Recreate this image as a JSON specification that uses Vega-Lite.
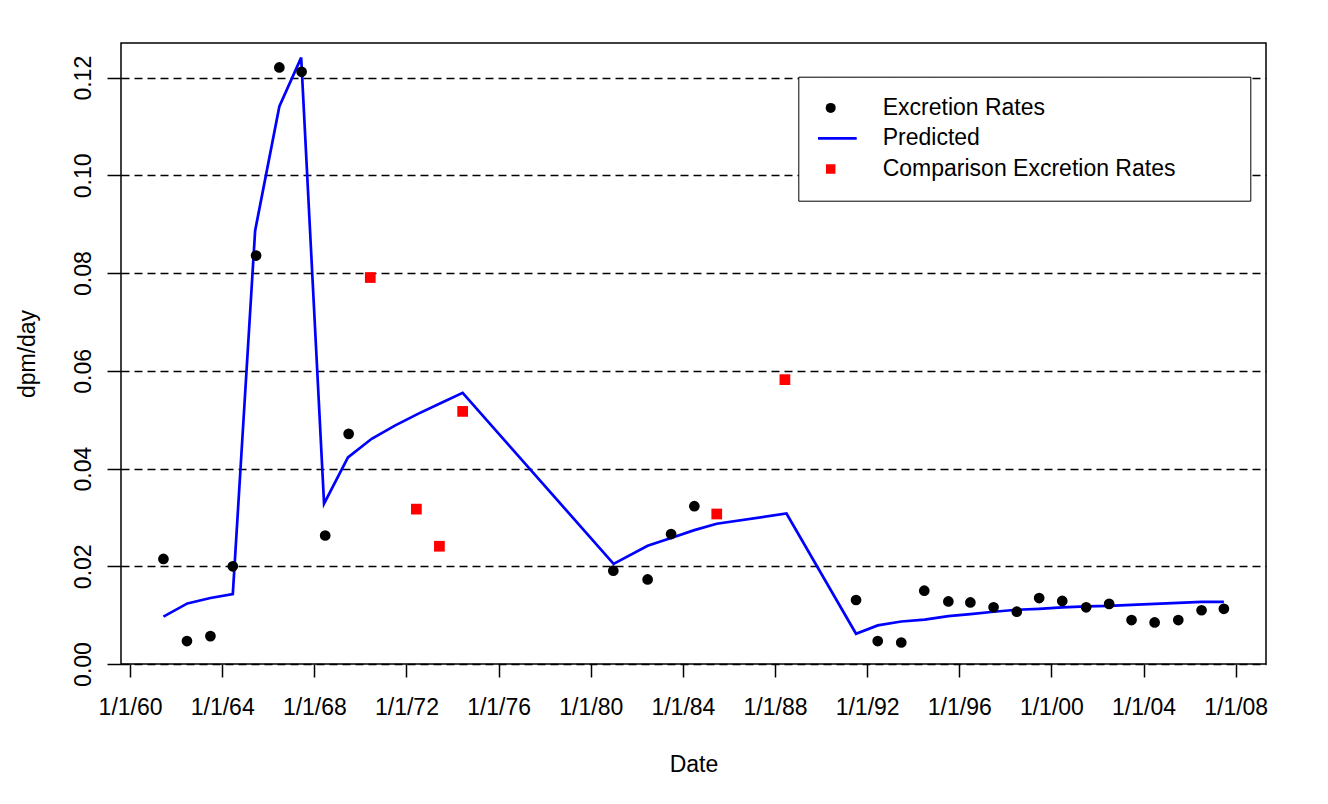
{
  "$schema": "https://vega.github.io/schema/vega-lite/v6.json",
  "width": 1145,
  "height": 621,
  "autosize": "none",
  "padding": {"left": 121, "top": 43, "right": 62, "bottom": 140},
  "background": "white",
  "config": {
    "font": "Liberation Sans",
    "view": {"stroke": "black", "strokeWidth": 1.5}
  },
  "data": {
    "values": [
      {"date": "1961/06/13", "value": 0.0215, "series": "Excretion Rates"},
      {"date": "1962/06/21", "value": 0.0047, "series": "Excretion Rates"},
      {"date": "1963/06/28", "value": 0.0057, "series": "Excretion Rates"},
      {"date": "1964/06/17", "value": 0.0200, "series": "Excretion Rates"},
      {"date": "1965/06/21", "value": 0.0836, "series": "Excretion Rates"},
      {"date": "1966/06/25", "value": 0.1221, "series": "Excretion Rates"},
      {"date": "1967/06/13", "value": 0.1212, "series": "Excretion Rates"},
      {"date": "1968/06/21", "value": 0.0263, "series": "Excretion Rates"},
      {"date": "1969/06/28", "value": 0.0471, "series": "Excretion Rates"},
      {"date": "1980/12/24", "value": 0.0191, "series": "Excretion Rates"},
      {"date": "1982/06/21", "value": 0.0173, "series": "Excretion Rates"},
      {"date": "1983/06/28", "value": 0.0266, "series": "Excretion Rates"},
      {"date": "1984/07/01", "value": 0.0323, "series": "Excretion Rates"},
      {"date": "1991/07/09", "value": 0.0131, "series": "Excretion Rates"},
      {"date": "1992/06/17", "value": 0.0047, "series": "Excretion Rates"},
      {"date": "1993/06/25", "value": 0.0044, "series": "Excretion Rates"},
      {"date": "1994/06/25", "value": 0.0150, "series": "Excretion Rates"},
      {"date": "1995/07/12", "value": 0.0128, "series": "Excretion Rates"},
      {"date": "1996/06/25", "value": 0.0126, "series": "Excretion Rates"},
      {"date": "1997/06/28", "value": 0.0116, "series": "Excretion Rates"},
      {"date": "1998/07/01", "value": 0.0107, "series": "Excretion Rates"},
      {"date": "1999/06/21", "value": 0.0135, "series": "Excretion Rates"},
      {"date": "2000/06/21", "value": 0.0129, "series": "Excretion Rates"},
      {"date": "2001/07/05", "value": 0.0116, "series": "Excretion Rates"},
      {"date": "2002/07/05", "value": 0.0123, "series": "Excretion Rates"},
      {"date": "2003/06/25", "value": 0.0090, "series": "Excretion Rates"},
      {"date": "2004/06/25", "value": 0.0085, "series": "Excretion Rates"},
      {"date": "2005/07/05", "value": 0.0090, "series": "Excretion Rates"},
      {"date": "2006/07/09", "value": 0.0110, "series": "Excretion Rates"},
      {"date": "2007/06/28", "value": 0.0113, "series": "Excretion Rates"},
      {"date": "1970/06/06", "value": 0.0791, "series": "Comparison Excretion Rates"},
      {"date": "1972/06/06", "value": 0.0317, "series": "Comparison Excretion Rates"},
      {"date": "1973/06/06", "value": 0.0241, "series": "Comparison Excretion Rates"},
      {"date": "1974/06/10", "value": 0.0517, "series": "Comparison Excretion Rates"},
      {"date": "1985/06/21", "value": 0.0307, "series": "Comparison Excretion Rates"},
      {"date": "1988/06/06", "value": 0.0582, "series": "Comparison Excretion Rates"},
      {"date": "1961/06/13", "value": 0.0097, "series": "Predicted"},
      {"date": "1962/06/28", "value": 0.0124, "series": "Predicted"},
      {"date": "1963/06/28", "value": 0.0135, "series": "Predicted"},
      {"date": "1964/06/17", "value": 0.0143, "series": "Predicted"},
      {"date": "1965/06/06", "value": 0.0887, "series": "Predicted"},
      {"date": "1966/06/25", "value": 0.1141, "series": "Predicted"},
      {"date": "1967/06/06", "value": 0.1241, "series": "Predicted"},
      {"date": "1968/06/03", "value": 0.0328, "series": "Predicted"},
      {"date": "1969/06/17", "value": 0.0423, "series": "Predicted"},
      {"date": "1970/06/28", "value": 0.0461, "series": "Predicted"},
      {"date": "1971/07/01", "value": 0.0488, "series": "Predicted"},
      {"date": "1972/07/01", "value": 0.0512, "series": "Predicted"},
      {"date": "1973/07/01", "value": 0.0534, "series": "Predicted"},
      {"date": "1974/06/10", "value": 0.0555, "series": "Predicted"},
      {"date": "1980/12/28", "value": 0.0205, "series": "Predicted"},
      {"date": "1982/06/21", "value": 0.0242, "series": "Predicted"},
      {"date": "1983/06/28", "value": 0.0258, "series": "Predicted"},
      {"date": "1984/07/01", "value": 0.0274, "series": "Predicted"},
      {"date": "1985/06/21", "value": 0.0287, "series": "Predicted"},
      {"date": "1988/07/01", "value": 0.0308, "series": "Predicted"},
      {"date": "1991/07/09", "value": 0.0062, "series": "Predicted"},
      {"date": "1992/06/17", "value": 0.0079, "series": "Predicted"},
      {"date": "1993/06/25", "value": 0.0087, "series": "Predicted"},
      {"date": "1994/07/01", "value": 0.0091, "series": "Predicted"},
      {"date": "1995/07/12", "value": 0.0098, "series": "Predicted"},
      {"date": "1996/06/25", "value": 0.0102, "series": "Predicted"},
      {"date": "1997/06/28", "value": 0.0107, "series": "Predicted"},
      {"date": "1998/07/01", "value": 0.0111, "series": "Predicted"},
      {"date": "1999/06/21", "value": 0.0113, "series": "Predicted"},
      {"date": "2000/06/21", "value": 0.0116, "series": "Predicted"},
      {"date": "2001/07/05", "value": 0.0118, "series": "Predicted"},
      {"date": "2002/07/05", "value": 0.0119, "series": "Predicted"},
      {"date": "2003/06/25", "value": 0.0121, "series": "Predicted"},
      {"date": "2004/06/25", "value": 0.0123, "series": "Predicted"},
      {"date": "2005/07/05", "value": 0.0125, "series": "Predicted"},
      {"date": "2006/07/09", "value": 0.0127, "series": "Predicted"},
      {"date": "2007/06/28", "value": 0.0127, "series": "Predicted"}
    ]
  },
  "encoding": {
    "x": {
      "field": "date",
      "type": "temporal",
      "scale": {"domain": [{"year": 1959, "month": 8, "date": 10}, {"year": 2009, "month": 4, "date": 26}]},
      "axis": {
        "title": "Date",
        "values": [
          {"year": 1960, "month": 1, "date": 1}, {"year": 1964, "month": 1, "date": 1},
          {"year": 1968, "month": 1, "date": 1}, {"year": 1972, "month": 1, "date": 1},
          {"year": 1976, "month": 1, "date": 1}, {"year": 1980, "month": 1, "date": 1},
          {"year": 1984, "month": 1, "date": 1}, {"year": 1988, "month": 1, "date": 1},
          {"year": 1992, "month": 1, "date": 1}, {"year": 1996, "month": 1, "date": 1},
          {"year": 2000, "month": 1, "date": 1}, {"year": 2004, "month": 1, "date": 1},
          {"year": 2008, "month": 1, "date": 1}
        ],
        "format": "%-m/%-d/%y",
        "labelFontSize": 23,
        "labelColor": "black",
        "labelPadding": 19,
        "labelFlush": false,
        "labelOverlap": false,
        "tickSize": 13,
        "tickWidth": 1.5,
        "tickColor": "black",
        "domain": false,
        "grid": false,
        "titleFontSize": 23,
        "titleFontWeight": "normal",
        "titleColor": "black",
        "titlePadding": 34
      }
    },
    "y": {
      "field": "value",
      "type": "quantitative",
      "scale": {"domain": [0, 0.1271], "nice": false, "zero": false},
      "axis": {
        "title": "dpm/day",
        "values": [0, 0.02, 0.04, 0.06, 0.08, 0.1, 0.12],
        "format": ".2f",
        "labelAngle": 270,
        "labelAlign": "center",
        "labelBaseline": "alphabetic",
        "labelPadding": 17,
        "labelFontSize": 23,
        "labelColor": "black",
        "labelOverlap": false,
        "tickSize": 14,
        "tickWidth": 1.5,
        "tickColor": "black",
        "domain": false,
        "grid": true,
        "gridColor": "black",
        "gridDash": [8, 5],
        "gridWidth": 1.5,
        "titleFontSize": 23,
        "titleFontWeight": "normal",
        "titleColor": "black",
        "titlePadding": 33
      }
    }
  },
  "layer": [
    {
      "transform": [{"filter": "datum.series === 'Predicted'"}],
      "mark": {"type": "line", "color": "#0000ff", "strokeWidth": 2.7},
      "encoding": {}
    },
    {
      "transform": [{"filter": "datum.series !== 'Predicted'"}],
      "mark": {"type": "point", "filled": true, "opacity": 1, "size": 115},
      "encoding": {
        "color": {
          "field": "series",
          "type": "nominal",
          "scale": {"domain": ["Excretion Rates", "Predicted", "Comparison Excretion Rates"], "range": ["black", "#0000ff", "#ff0000"]},
          "legend": {
            "title": "\u200b\u00a0\u00a0\u00a0\u00a0\u00a0\u00a0\u00a0\u00a0\u00a0\u00a0\u00a0\u00a0\u00a0\u200b",
            "titleFontSize": 14,
            "titleOrient": "right",
            "titleAngle": 0,
            "titlePadding": 5,
            "titleLimit": 2000,
            "orient": "none",
            "legendX": 677.3,
            "legendY": 33.7,
            "padding": 19.7,
            "strokeColor": "black",
            "fillColor": "white",
            "labelFontSize": 23,
            "labelColor": "black",
            "labelLimit": 800,
            "labelOffset": 40.5,
            "symbolOffset": 1.2,
            "rowPadding": 6.5,
            "clipHeight": 23,
            "symbolOpacity": 1,
            "symbolType": {"expr": "datum.value === 'Predicted' ? 'stroke' : datum.value === 'Excretion Rates' ? 'circle' : 'square'"},
            "symbolSize": {"expr": "datum.value === 'Predicted' ? 2704 : datum.value === 'Excretion Rates' ? 100 : 90"},
            "symbolStrokeColor": {"expr": "datum.value === 'Predicted' ? '#0000ff' : 'transparent'"},
            "symbolStrokeWidth": {"expr": "datum.value === 'Predicted' ? 2.7 : 0"}
          }
        },
        "shape": {
          "field": "series",
          "type": "nominal",
          "scale": {"domain": ["Excretion Rates", "Predicted", "Comparison Excretion Rates"], "range": ["circle", "stroke", "square"]},
          "legend": null
        }
      }
    }
  ]
}
